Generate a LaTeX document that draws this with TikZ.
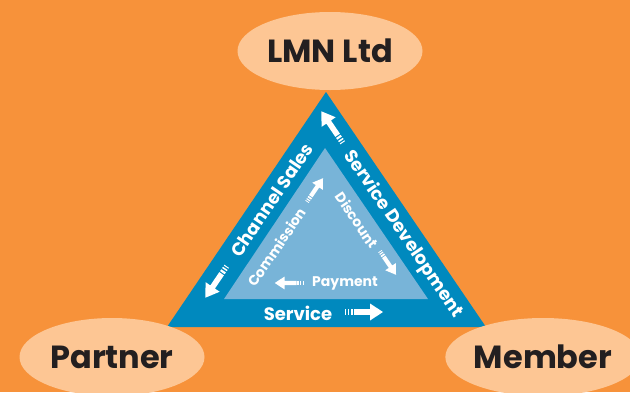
\documentclass[tikz,border=0pt]{standalone}
\usepackage{fontspec}
\setmainfont{Poppins}
\usetikzlibrary{shapes.geometric}

\definecolor{bg_orange}{RGB}{247,146,58}
\definecolor{party_fill}{RGB}{253,198,148}
\definecolor{band_blue}{RGB}{0,137,190}
\definecolor{core_blue}{RGB}{120,180,216}
\definecolor{ink}{RGB}{35,31,32}

\pgfdeclarelayer{edgelayer}
\pgfdeclarelayer{nodelayer}
\pgfsetlayers{edgelayer,nodelayer,main}
\tikzstyle{none}=[inner sep=0pt]
\tikzstyle{party_vertex}=[ellipse,fill=party_fill,minimum width=185pt,minimum height=78pt,inner sep=0pt,text=ink,font=\bfseries\fontsize{32}{32}\selectfont]
\tikzstyle{outer_label}=[inner sep=0pt,text=white,font=\bfseries\fontsize{18}{18}\selectfont]
\tikzstyle{inner_label}=[inner sep=0pt,text=white,font=\bfseries\fontsize{14}{14}\selectfont]
\tikzset{
	flow_arrow/.pic={
		\fill [white] (-19,-2.8) rectangle (-18,2.8);
		\fill [white] (-16.5,-2.8) rectangle (-15,2.8);
		\fill [white] (-13.5,-2.8) rectangle (-11.3,2.8);
		\fill [white] (-10,-2.8) -- (6,-2.8) -- (6,-8.5) -- (19,0) -- (6,8.5) -- (6,2.8) -- (-10,2.8) -- cycle;
	}
}

\begin{document}
\begin{tikzpicture}[x=1pt,y=-1pt]
	\useasboundingbox (0,0) rectangle (630,392);
	\begin{pgfonlayer}{nodelayer}
		\node [style={party_vertex}] (0) at (330, 51) {LMN Ltd};
		\node [style={party_vertex}] (1) at (112, 357) {Partner};
		\node [style={party_vertex}] (2) at (543, 357) {Member};
		\node [style={outer_label},rotate=55.8] (3) at (272, 200) {Channel Sales};
		\node [style={outer_label},rotate=-55.8] (4) at (403, 234) {Service Development};
		\node [style={outer_label}] (5) at (298, 313) {Service};
		\node [style={inner_label},rotate=55.8] (6) at (277, 247) {Commission};
		\node [style={inner_label},rotate=-55.8] (7) at (357, 220) {Discount};
		\node [style={inner_label}] (8) at (345, 283) {Payment};
		\node [style=none] (10) at (326, 92) {};
		\node [style=none] (11) at (167, 327) {};
		\node [style=none] (12) at (486, 327) {};
		\node [style=none] (13) at (325, 148) {};
		\node [style=none] (14) at (224, 299) {};
		\node [style=none] (15) at (428, 299) {};
	\end{pgfonlayer}
	\begin{pgfonlayer}{edgelayer}
		\fill [bg_orange] (0,0) rectangle (630,392);
		\fill [band_blue] (10.center) -- (11.center) -- (12.center) -- cycle;
		\fill [core_blue] (13.center) -- (14.center) -- (15.center) -- cycle;
		\pic [rotate=-124.2] at (216, 282) {flow_arrow};
		\pic [rotate=124.2] at (332, 127) {flow_arrow};
		\pic at (364, 312) {flow_arrow};
		\pic [rotate=55.8,scale=0.75] at (315, 190) {flow_arrow};
		\pic [rotate=-55.8,scale=0.75] at (388, 263) {flow_arrow};
		\pic [rotate=180,scale=0.75] at (289, 283) {flow_arrow};
	\end{pgfonlayer}
\end{tikzpicture}
\end{document}
